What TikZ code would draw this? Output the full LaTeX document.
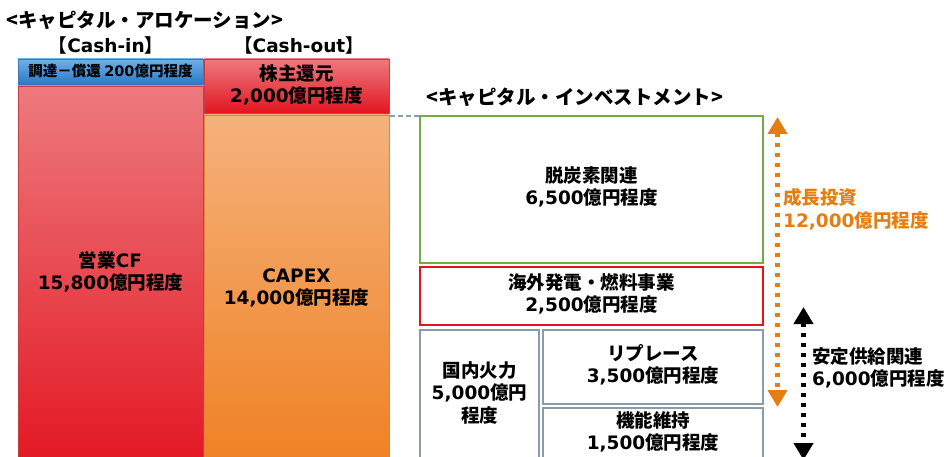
\documentclass[tikz,border=0pt]{standalone}
\usepackage{fontspec}
\setmainfont{Noto Sans CJK JP}
\newfontfamily\latfont{DejaVu Sans}
\newcommand{\latn}[1]{{\latfont\bfseries #1}}
\usetikzlibrary{arrows.meta}
\definecolor{pinktop}{RGB}{237,122,126}
\definecolor{redbot}{RGB}{227,22,34}
\definecolor{oratop}{RGB}{245,178,124}
\definecolor{orabot}{RGB}{239,128,33}
\definecolor{bluetop}{RGB}{112,176,230}
\definecolor{bluebot}{RGB}{42,122,198}
\definecolor{blueline}{RGB}{60,120,185}
\definecolor{redline}{RGB}{200,60,70}
\definecolor{oraline}{RGB}{225,130,60}
\definecolor{grn}{RGB}{112,173,71}
\definecolor{rd}{RGB}{228,20,30}
\definecolor{gry}{RGB}{138,155,171}
\definecolor{dashgray}{RGB}{140,158,178}
\definecolor{ora}{RGB}{228,126,16}
\begin{document}
\begin{tikzpicture}[x=1pt,y=-1pt,
  lbl/.style={font=\fontsize{18.5}{22.5}\selectfont\bfseries, align=center, inner sep=0pt},
  ttl/.style={font=\fontsize{19.5}{23}\selectfont\bfseries, inner sep=0pt, anchor=west},
  sml/.style={font=\fontsize{14.5}{17}\selectfont\bfseries, inner sep=0pt},
  outbox/.style={line width=2.5pt},
  dotarrow/.style={line width=4.5pt, dash pattern=on 4.5pt off 5.5pt,
     {Triangle[length=17pt,width=19pt]}-{Triangle[length=17pt,width=19pt]}}
]
\useasboundingbox (0,0) rectangle (944,457);
\clip (0,0) rectangle (944,457);
\fill[white] (0,0) rectangle (944,457);

% titles
\node[ttl] (t1) at (6,20) {<キャピタル・アロケーション>};
\node[lbl] (cin) at (106,45) {【\latn{Cash-in}】};
\node[lbl] (cout) at (299,45) {【\latn{Cash-out}】};
\node[ttl] (t2) at (426,97) {<キャピタル・インベストメント>};

% allocation boxes
\draw[draw=blueline, line width=0.6pt, top color=bluetop, bottom color=bluebot] (18,59) rectangle (203,84);
\node[sml] (chotatsu) at (110.5,71) {調達－償還 \latn{200}億円程度};
\draw[draw=redline, line width=0.6pt, top color=pinktop, bottom color=redbot] (18,86) rectangle (203,470);
\node[lbl] (eigyo) at (110.5,272) {営業\latn{CF}\\\latn{15,800}億円程度};
\draw[draw=redline, line width=0.6pt, top color=pinktop, bottom color=redbot] (204,59) rectangle (389,113);
\node[lbl] (kabu) at (296.5,85) {株主還元\\\latn{2,000}億円程度};
\draw[draw=oraline, line width=0.6pt, top color=oratop, bottom color=orabot] (204,115) rectangle (389,470);
\node[lbl] (capex) at (296.5,288) {\latn{CAPEX}\\\latn{14,000}億円程度};
\coordinate (capexTR) at (389.5,116);

% investment boxes
\draw[outbox, draw=grn] (420,116) rectangle (763,263);
\coordinate (grnTL) at (420,116);
\node[lbl] (datsu) at (591.5,187) {脱炭素関連\\\latn{6,500}億円程度};
\draw[outbox, draw=rd] (420,267) rectangle (763,325);
\node[lbl] (kaigai) at (591.5,294) {海外発電・燃料事業\\\latn{2,500}億円程度};
\draw[outbox, draw=gry] (420,330) rectangle (539,475);
\node[lbl] (kokunai) at (479.5,393) {国内火力\\\latn{5,000}億円\\程度};
\draw[outbox, draw=gry] (543,330) rectangle (763,404);
\node[lbl] (replace) at (653,365) {リプレース\\\latn{3,500}億円程度};
\draw[outbox, draw=gry] (543,408) rectangle (763,475);
\node[lbl] (kinou) at (653,432) {機能維持\\\latn{1,500}億円程度};

% dashed connector
\draw[dashgray, line width=1.5pt, dash pattern=on 5pt off 3pt] (capexTR) -- (grnTL);

% arrows
\coordinate (oa1) at (777.5,117);
\coordinate (oa2) at (777.5,407);
\draw[dotarrow, ora] (oa1) -- (oa2);
\node[lbl, anchor=west, align=left, text=ora] (seicho) at (783,209) {成長投資\\\latn{12,000}億円程度};

\coordinate (ba1) at (803.5,307);
\coordinate (ba2) at (803.5,460);
\draw[dotarrow, black] (ba1) -- (ba2);
\node[lbl, anchor=west, align=left] (antei) at (812,368) {安定供給関連\\\latn{6,000}億円程度};
\end{tikzpicture}
\end{document}
